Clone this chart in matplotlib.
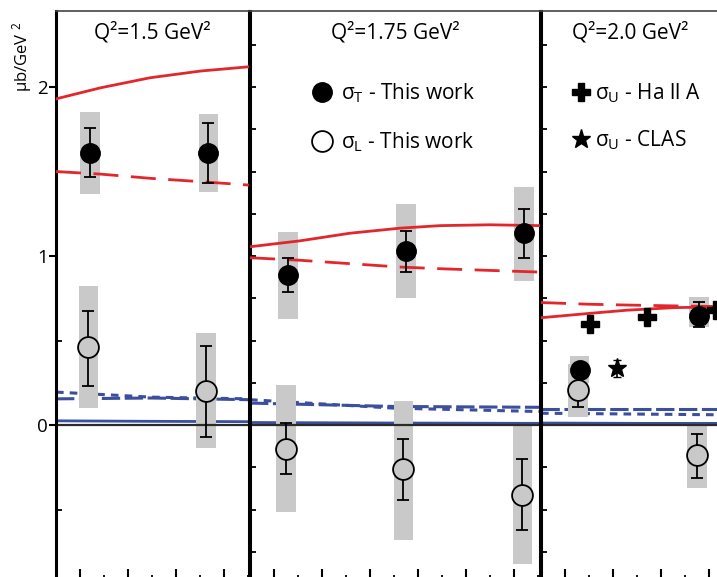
import matplotlib
matplotlib.use('Agg')
import matplotlib.pyplot as plt
from matplotlib.lines import Line2D
from matplotlib.ticker import MultipleLocator

plt.rcParams['font.family'] = ['Open Sans', 'DejaVu Sans']
plt.rcParams['mathtext.fontset'] = 'custom'
plt.rcParams['mathtext.rm'] = 'Open Sans'
plt.rcParams['mathtext.it'] = 'Open Sans:italic'

RED = '#e3262b'
BLUE = '#3b4f9e'
GRAY = '#c9c9c9'

# panel titles and x ranges (-t, GeV^2)
q2_titles = ['Q²=1.5 GeV²', 'Q²=1.75 GeV²', 'Q²=2.0 GeV²']
x_ranges = [(0.05, 0.452), (0.05, 0.654), (0.05, 0.45)]

# sigma_T - this work
sigT_x = [[0.121, 0.367], [0.129, 0.375, 0.621], [0.131, 0.379]]
sigT_y = [[1.61, 1.61], [0.89, 1.03, 1.135], [0.325, 0.645]]
sigT_err_lo = [[1.47, 1.43], [0.79, 0.905, 0.99], [0.30, 0.58]]
sigT_err_hi = [[1.76, 1.79], [0.99, 1.15, 1.28], [0.35, 0.73]]
sigT_sys_lo = [[1.37, 1.38], [0.63, 0.75, 0.85], [0.25, 0.58]]
sigT_sys_hi = [[1.85, 1.84], [1.14, 1.31, 1.41], [0.41, 0.76]]

# sigma_L - this work
sigL_x = [[0.117, 0.3625], [0.125, 0.369, 0.617], [0.127, 0.375]]
sigL_y = [[0.46, 0.20], [-0.14, -0.26, -0.415], [0.205, -0.18]]
sigL_err_lo = [[0.23, -0.07], [-0.29, -0.445, -0.62], [0.105, -0.315]]
sigL_err_hi = [[0.675, 0.47], [0.01, -0.08, -0.20], [0.30, -0.055]]
sigL_sys_lo = [[0.10, -0.135], [-0.515, -0.68, -0.82], [0.05, -0.37]]
sigL_sys_hi = [[0.82, 0.545], [0.235, 0.14, 0.0], [0.36, 0.0]]

# sigma_U from Hall A and CLAS (Q2=2.0 panel)
hallA_x = [0.152, 0.271, 0.415]
hallA_y = [0.60, 0.64, 0.68]
clas_x = [0.208]
clas_y = [0.335]
clas_err = [0.05]

# model curves (red: sigma_T, blue: sigma_L)
red_x = [[0.05, 0.142, 0.246, 0.352, 0.452],
         [0.05, 0.154, 0.258, 0.3625, 0.446, 0.55, 0.654],
         [0.05, 0.148, 0.231, 0.329, 0.45]]
red_solid = [[1.93, 1.995, 2.055, 2.095, 2.12],
             [1.055, 1.09, 1.135, 1.165, 1.18, 1.185, 1.18],
             [0.635, 0.66, 0.68, 0.695, 0.70]]
red_dashed = [[1.50, 1.485, 1.46, 1.44, 1.42],
              [0.99, 0.975, 0.955, 0.935, 0.925, 0.915, 0.905],
              [0.725, 0.715, 0.71, 0.705, 0.70]]
blue_x = [[0.05, 0.25, 0.452], [0.05, 0.35, 0.654], [0.05, 0.25, 0.45]]
blue_solid = [[0.025, 0.022, 0.02], [0.015, 0.012, 0.01], [0.012, 0.01, 0.01]]
blue_dashed = [[0.155, 0.16, 0.15], [0.13, 0.11, 0.105], [0.095, 0.095, 0.095]]
blue_dotted = [[0.195, 0.165, 0.155], [0.15, 0.10, 0.08], [0.07, 0.065, 0.06]]

W, H = 717, 577
fig = plt.figure(figsize=(W / 100, H / 100), dpi=100)

px_per_x = 480.0
top_px = 11
y_top, y_bot = 2.45, -0.925
px_per_y = 169.0
ax_h = (y_top - y_bot) * px_per_y
lefts = [56, 250, 541]

axes = []
for i in range(3):
    x0, x1 = x_ranges[i]
    w = (x1 - x0) * px_per_x
    ax = fig.add_axes([lefts[i] / W, 1 - (top_px + ax_h) / H, w / W, ax_h / H])
    ax.set_xlim(x0, x1)
    ax.set_ylim(y_bot, y_top)
    ax.patch.set_alpha(0)
    for s in ['left', 'right', 'bottom']:
        ax.spines[s].set_linewidth(2.2)
    ax.spines['top'].set_linewidth(1.2)
    ax.spines['top'].set_color('#444444')

    # model curves
    ax.plot(blue_x[i], blue_solid[i], color=BLUE, lw=2, zorder=1)
    ax.plot(blue_x[i], blue_dashed[i], color=BLUE, lw=2.2, ls=(0, (6, 1.5)), zorder=1)
    ax.plot(blue_x[i], blue_dotted[i], color=BLUE, lw=2.2, ls=(0, (2.5, 2)), zorder=1)
    ax.axhline(0, color='#2a2a2a', lw=1.6, zorder=2.5)
    ax.plot(red_x[i], red_solid[i], color=RED, lw=2, zorder=3)
    ax.plot(red_x[i], red_dashed[i], color=RED, lw=2, ls=(0, (9, 4.5)), zorder=3)

    # systematic bands
    for xs, lo, hi in [(sigT_x[i], sigT_sys_lo[i], sigT_sys_hi[i]),
                       (sigL_x[i], sigL_sys_lo[i], sigL_sys_hi[i])]:
        ax.bar(xs, [h - l for l, h in zip(lo, hi)], bottom=lo, width=0.04,
               color=GRAY, edgecolor='none', zorder=2)

    # data points
    ax.errorbar(sigT_x[i], sigT_y[i],
                yerr=[[y - l for y, l in zip(sigT_y[i], sigT_err_lo[i])],
                      [h - y for y, h in zip(sigT_y[i], sigT_err_hi[i])]],
                fmt='o', ms=14, mfc='black', mec='black', ecolor='black',
                elinewidth=1.3, capsize=4.5, capthick=1.3, zorder=4)
    ax.errorbar(sigL_x[i], sigL_y[i],
                yerr=[[y - l for y, l in zip(sigL_y[i], sigL_err_lo[i])],
                      [h - y for y, h in zip(sigL_y[i], sigL_err_hi[i])]],
                fmt='o', ms=15, mfc=GRAY, mec='black', mew=1.3, ecolor='black',
                elinewidth=1.3, capsize=4.5, capthick=1.3, zorder=4)

    # ticks
    ax.xaxis.set_major_locator(MultipleLocator(0.1))
    ax.xaxis.set_minor_locator(MultipleLocator(0.05))
    ax.tick_params(axis='x', which='major', direction='in', length=9, width=1.5,
                   top=False, labelbottom=False)
    ax.tick_params(axis='x', which='minor', direction='in', length=4.5, width=1.3,
                   top=False)
    if i == 0:
        ax.set_yticks([0, 1, 2])
        ax.yaxis.set_minor_locator(MultipleLocator(0.5))
        ax.tick_params(axis='y', which='major', direction='out', length=5, width=1.5,
                       labelsize=13.5, pad=1, right=False)
        ax.tick_params(axis='y', which='minor', direction='in', length=4, width=1.3,
                       right=False)
    else:
        ax.yaxis.set_major_locator(MultipleLocator(0.25))
        ax.yaxis.set_minor_locator(MultipleLocator(0.25))
        ax.tick_params(axis='y', which='both', direction='in', length=4.5, width=1.3,
                       labelleft=False, right=False)

    ax.text(0.5 if i < 2 else 0.161, 1 - 27 / ax_h, q2_titles[i],
            transform=ax.transAxes, ha='center' if i < 2 else 'left',
            va='baseline', fontsize=15)
    axes.append(ax)

ax3 = axes[2]
ax3.plot(hallA_x, hallA_y, 'P', ms=13, color='black', zorder=4)
ax3.errorbar(clas_x, clas_y, yerr=clas_err, fmt='*', ms=14, color='black',
             elinewidth=1.2, capsize=3, zorder=4)

h_T = Line2D([], [], ls='none', marker='o', ms=14, mfc='black', mec='black')
h_L = Line2D([], [], ls='none', marker='o', ms=15, mfc='white', mec='black', mew=1.3)
axes[1].legend([h_T, h_L], ['σ$_\\mathrm{T}$ - This work', 'σ$_\\mathrm{L}$ - This work'],
               loc='upper left', bbox_to_anchor=(0.205, 0.876), frameon=False,
               fontsize=15, handlelength=1.2, handletextpad=0.3,
               labelspacing=1.22, borderpad=0, borderaxespad=0)
h_H = Line2D([], [], ls='none', marker='P', ms=13, color='black')
h_C = Line2D([], [], ls='none', marker='*', ms=14, color='black')
ax3.legend([h_H, h_C], ['σ$_\\mathrm{U}$ - Ha ll A', 'σ$_\\mathrm{U}$ - CLAS'],
           loc='upper left', bbox_to_anchor=(0.155, 0.876), frameon=False,
           fontsize=15, handlelength=1.0, handletextpad=0.15,
           labelspacing=1.12, borderpad=0, borderaxespad=0)

fig.text(22 / W, 1 - 57 / H, 'μb/GeV $^2$', rotation=90, ha='center', va='center',
         fontsize=12)

fig.savefig('out.png', dpi=100)
